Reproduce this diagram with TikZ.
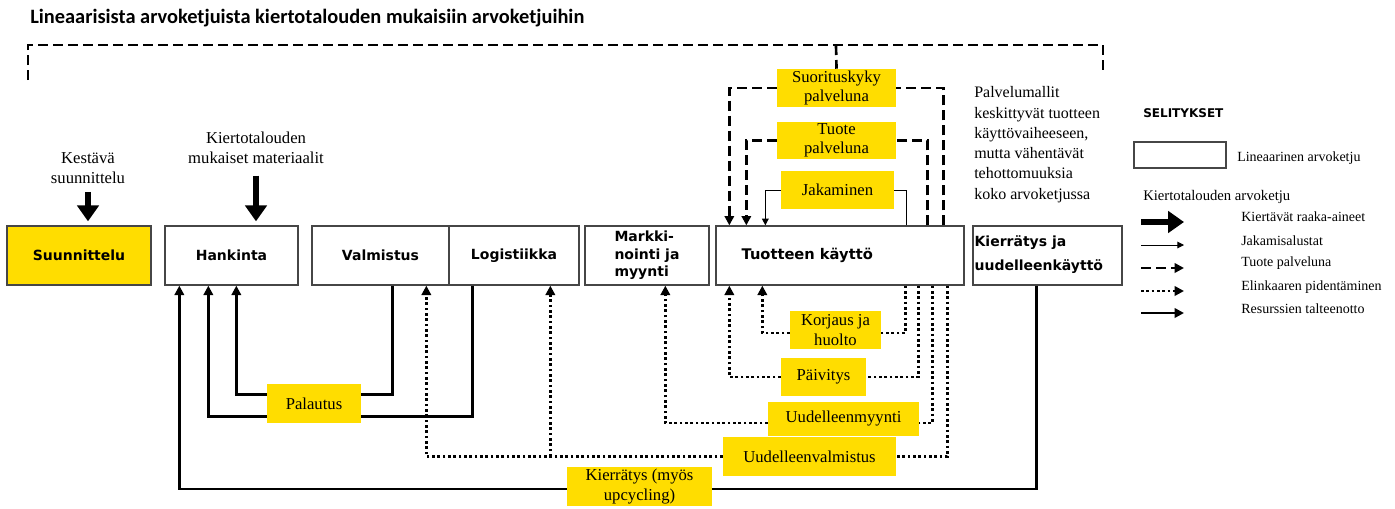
\documentclass[tikz,border=0pt]{standalone}
\usepackage{fontspec}
\setmainfont{Liberation Serif}
\newfontfamily\boxfont{DejaVu Sans}
\newfontfamily\titlefont{Carlito}
\usetikzlibrary{positioning,calc,arrows.meta}
\definecolor{kyellow}{RGB}{255,221,0}
\definecolor{kgray}{RGB}{70,70,70}
\newdimen\pxu \pxu=0.75pt

\begin{document}
\begin{tikzpicture}[x=0.75pt, y=-0.75pt,
        >={Triangle[width=7pt,length=7pt]},
        chain/.style={draw=kgray, line width=1pt, inner sep=0pt, minimum height=59\pxu, font=\boxfont\bfseries\fontsize{10.5}{13}\selectfont}, % linear value chain
        chaintext/.style={inner sep=0pt, align=left, font=\boxfont\bfseries\fontsize{11}{13}\selectfont},
        ybox/.style={fill=kyellow, inner sep=0pt, align=center, font=\fontsize{12.5}{14.5}\selectfont},
        note/.style={inner sep=0pt, align=center, font=\fontsize{12.5}{15}\selectfont},
        legtext/.style={anchor=west, inner sep=0pt, font=\fontsize{10.5}{12}\selectfont},
        raw/.style={line width=4.5pt, -{Triangle[width=16pt,length=12pt]}},
        res/.style={line width=2pt},
        elk/.style={line width=2pt, dash pattern=on 2pt off 2pt},
        tpal/.style={line width=2pt, dash pattern=on 7.5pt off 3.75pt},
        jak/.style={line width=0.75pt, >={Triangle[width=5pt,length=5pt]}}
    ]
    \useasboundingbox (0,0) rectangle (1395,508);

    % Title
    \node[anchor=base west, inner sep=0pt, font=\titlefont\bfseries\fontsize{15.3}{18}\selectfont] (title) at (30,23) {Lineaarisista arvoketjuista kiertotalouden mukaisiin arvoketjuihin};

    % Linear chain
    \node[chain, fill=kyellow, minimum width=144\pxu] (suun) at (79,255.5) {Suunnittelu};
    \node[chain, minimum width=133\pxu] (hank) at (231.5,255.5) {Hankinta};
    \node[chain, minimum width=137\pxu] (valm) at (380.5,255.5) {Valmistus};
    \node[chain, minimum width=130\pxu] (logi) at (514,255.5) {Logistiikka};
    \node[chain, minimum width=124\pxu, align=left] (mark) at (647,255.5) {Markki-\\nointi ja\\myynti};
    \node[chain, minimum width=248\pxu] (kaytto) at (840,255.5) {};
    \node[chaintext, anchor=west] at ($(kaytto.west)+(26,0)$) {Tuotteen käyttö};
    \node[chain, minimum width=149\pxu] (kierr) at (1047.5,255.5) {};
    \node[chaintext, anchor=west, font=\boxfont\bfseries\fontsize{10.5}{18}\selectfont] at ($(kierr.west)+(2,-1)$) {Kierrätys ja\\uudelleenkäyttö};

    % Inputs
    \node[note] (kestava) at (88,168) {Kestävä\\suunnittelu};
    \node[note] (materiaalit) at (256,147.5) {Kiertotalouden\\mukaiset materiaalit};
    \draw[raw, shorten <=8\pxu, shorten >=4\pxu] (kestava.south) -- (kestava.south |- suun.north);
    \draw[raw, shorten <=12\pxu, shorten >=4\pxu] (materiaalit.south) -- (materiaalit.south |- hank.north);

    % Service loops above the use phase
    \node[ybox, minimum width=119\pxu, minimum height=38\pxu] (suoritus) at (836.5,88) {Suorituskyky\\palveluna};
    \node[ybox, minimum width=119\pxu, minimum height=37\pxu] (tuote) at (836.5,140.5) {Tuote\\palveluna};
    \node[ybox, minimum width=113\pxu, minimum height=38\pxu] (jakam) at (837.5,190) {Jakaminen};

    \draw[tpal] ($(kaytto.north west)+(228,0)$) |- (suoritus.east);
    \draw[tpal, ->] (suoritus.west) -| ($(kaytto.north west)+(14,0)$);
    \draw[tpal] ($(kaytto.north west)+(212,0)$) |- (tuote.east);
    \draw[tpal, ->] (tuote.west) -| ($(kaytto.north west)+(31,0)$);
    \draw[jak] ($(kaytto.north west)+(191,0)$) |- (jakam.east);
    \draw[jak, ->] (jakam.west) -| ($(kaytto.north west)+(50,0)$);

    % Dashed bracket
    \draw[tpal] (28,80) |- (1103,45) -- (1103,72);
    \draw[tpal] (836,45) -- (suoritus.north);

    % Text next to the loops
    \node[anchor=north west, inner sep=0pt, align=left, font=\fontsize{12}{15.2}\selectfont] (palvelu) at (974,86.5) {Palvelumallit\\keskittyvät tuotteen\\käyttövaiheeseen,\\mutta vähentävät\\tehottomuuksia\\koko arvoketjussa};

    % Life extension loops below the use phase
    \node[ybox, minimum width=91\pxu, minimum height=38\pxu] (korjaus) at (835.5,330) {Korjaus ja\\huolto};
    \node[ybox, minimum width=85\pxu, minimum height=38\pxu] (paivitys) at (823.5,377) {Päivitys};
    \node[ybox, minimum width=151\pxu, minimum height=34\pxu] (myynti) at (843.5,419) {Uudelleenmyynti};
    \node[ybox, minimum width=173\pxu, minimum height=39\pxu] (uudval) at (809.5,456.5) {Uudelleenvalmistus};

    \draw[elk] ($(kaytto.south west)+(190,0)$) |- ($(korjaus.east)+(0,3)$);
    \draw[elk, ->] ($(korjaus.west)+(0,3)$) -| ($(kaytto.south west)+(47,0)$);
    \draw[elk] ($(kaytto.south west)+(203,0)$) |- (paivitys.east);
    \draw[elk, ->] (paivitys.west) -| ($(kaytto.south west)+(14,0)$);
    \draw[elk] ($(kaytto.south west)+(217,0)$) |- ($(myynti.east)+(0,4)$);
    \draw[elk, ->] ($(myynti.west)+(0,4)$) -| ($(mark.south west)+(81,0)$);
    \draw[elk] ($(kaytto.south west)+(232,0)$) |- (uudval.east);
    \draw[elk, ->] (uudval.west) -| ($(valm.south west)+(115,0)$);
    \coordinate (logiin) at ($(logi.south west)+(102,0)$);
    \draw[elk, ->] (uudval.west -| logiin) -- (logiin);

    % Resource recovery
    \node[ybox, minimum width=94\pxu, minimum height=39\pxu] (palautus) at (314,403.5) {Palautus};
    \node[ybox, minimum width=145\pxu, minimum height=39\pxu] (kierratys) at (639.5,486.5) {Kierrätys (myös\\upcycling)};

    \draw[res] ($(valm.south west)+(81,0)$) |- ($(palautus.north east)+(0,11)$);
    \draw[res, ->] ($(palautus.north west)+(0,11)$) -| ($(hank.south west)+(72,0)$);
    \draw[res] ($(logi.south west)+(24,0)$) |- ($(palautus.south east)+(0,-7)$);
    \draw[res, ->] ($(palautus.south west)+(0,-7)$) -| ($(hank.south west)+(44,0)$);
    \draw[res] ($(kierr.south west)+(64,0)$) |- ($(kierratys.east)+(0,2.5)$);
    \draw[res, ->] ($(kierratys.west)+(0,2.5)$) -| ($(hank.south west)+(15,0)$);

    % Legend
    \node[anchor=west, inner sep=0pt, font=\boxfont\bfseries\fontsize{9}{11}\selectfont] (selit) at (1143,113) {SELITYKSET};
    \node[draw=kgray, line width=1pt, minimum width=92\pxu, minimum height=26\pxu] (legbox) at (1180,155) {};
    \node[legtext] (leglin) at (1237,158) {Lineaarinen arvoketju};
    \node[legtext, font=\fontsize{11}{13}\selectfont] (legkierto) at (1143,197) {Kiertotalouden arvoketju};

    \draw[raw] (1141,222) -- (1184,222);
    \draw[jak, ->] (1141,245) -- (1184,245);
    \draw[tpal, ->] (1141,268) -- (1184,268);
    \draw[elk, ->] (1141,291) -- (1184,291);
    \draw[res, ->] (1141,313) -- (1184,313);

    \node[legtext] (legraw) at (1241,217) {Kiertävät raaka-aineet};
    \node[legtext] (legjak) at (1241,241) {Jakamisalustat};
    \node[legtext] (legtpal) at (1241,263) {Tuote palveluna};
    \node[legtext] (legelk) at (1241,287) {Elinkaaren pidentäminen};
    \node[legtext] (legres) at (1241,309) {Resurssien talteenotto};
\end{tikzpicture}
\end{document}
